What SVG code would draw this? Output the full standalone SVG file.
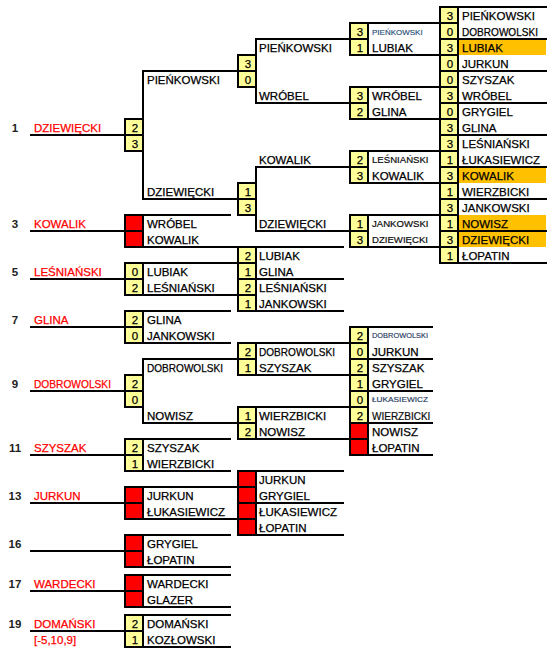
<svg xmlns="http://www.w3.org/2000/svg" width="549" height="650" viewBox="0 0 549 650">
<style>
text{font-family:"Liberation Sans",Arial,sans-serif;font-size:11.5px;fill:#000;stroke:#000;stroke-width:0.25px}
.lab{fill:#f00;stroke:#f00}
.num{font-weight:bold;fill:#222;stroke:none;text-anchor:middle}
.sc{text-anchor:middle}
.sm{font-size:9.6px;fill:#111;stroke-width:0.2px}
.xs{font-size:7.5px;fill:#1f3a5f;stroke:#1f3a5f;stroke-width:0.15px}
.p8{font-size:8px;fill:#1f4e79;stroke:#1f4e79;stroke-width:0.15px}
.y{fill:#ffff99;stroke:#000;stroke-width:2}
.rd{fill:#ff0000;stroke:#000;stroke-width:2}
.or{fill:#ffc000}
.ln{stroke:#000;stroke-width:2;fill:none;stroke-linecap:square}
</style>
<rect width="549" height="650" fill="#fff"/>
<g id="highlights">
<rect class="or" x="458" y="39" width="88" height="16"/>
<rect class="or" x="458" y="167" width="88" height="16"/>
<rect class="or" x="458" y="215" width="88" height="32"/>
</g>
<g id="connectors" class="ln">
<path d="M31 135H125M31 231H125M31 279H125M31 327H125M31 391H125M31 455H125M31 503H125M31 551H125M31 591H125M31 631H125"/>
<path d="M125 215H230M125 247H343M125 263H238M125 295H238M125 311H230M238 311H343M125 343H230M238 343H350M125 439H230M238 439H350M125 471H230M238 471H343M125 487H238M125 519H238M125 535H230M238 535H343M125 567H230M125 575H230M125 607H230M125 615H230M125 647H230"/>
<path d="M238 71H143V199H238M238 359H143V423H238"/>
<path d="M350 39H256V103H350M350 167H256V231H350"/>
<path d="M238 279H343M238 375H350M238 407H350M238 503H343"/>
<path d="M350 23H440M350 55H440M350 87H440M350 119H440M350 151H440M350 183H440M350 215H440M350 247H440"/>
<path d="M350 327H432M350 359H432M350 391H432M350 423H432M350 455H432"/>
<path d="M440 7H546M440 39H546M440 71H546M440 103H546M440 135H546M440 167H546M440 199H546M440 231H546M440 263H546"/>
</g>
<g id="labels">
<text class="num" x="15" y="132">1</text><text class="lab" x="34" y="132">DZIEWIĘCKI</text>
<text class="num" x="15" y="228">3</text><text class="lab" x="34" y="228">KOWALIK</text>
<text class="num" x="15" y="276">5</text><text class="lab" x="34" y="276">LEŚNIAŃSKI</text>
<text class="num" x="15" y="324">7</text><text class="lab" x="34" y="324">GLINA</text>
<text class="num" x="15" y="388">9</text><text class="lab" x="34" y="388" textLength="77" lengthAdjust="spacingAndGlyphs">DOBROWOLSKI</text>
<text class="num" x="15" y="452">11</text><text class="lab" x="34" y="452">SZYSZAK</text>
<text class="num" x="15" y="500">13</text><text class="lab" x="34" y="500">JURKUN</text>
<text class="num" x="15" y="548">16</text>
<text class="num" x="15" y="588">17</text><text class="lab" x="34" y="588">WARDECKI</text>
<text class="num" x="15" y="628">19</text><text class="lab" x="34" y="628">DOMAŃSKI</text>
<text class="lab" x="34" y="644">[-5,10,9]</text>
</g>
<g id="r1-dziewiecki">
<rect class="y" x="125" y="119" width="18" height="16"/><rect class="y" x="125" y="135" width="18" height="16"/>
<text class="sc" x="135" y="132">2</text><text class="sc" x="135" y="148">3</text>
<text x="147" y="84">PIEŃKOWSKI</text><text x="147" y="196">DZIEWIĘCKI</text>
</g>
<g id="r1-kowalik">
<rect class="rd" x="125" y="215" width="18" height="16"/><rect class="rd" x="125" y="231" width="18" height="16"/>
<text x="147" y="228">WRÓBEL</text><text x="147" y="244">KOWALIK</text>
</g>
<g id="r1-lesnianski">
<rect class="y" x="125" y="263" width="18" height="16"/><rect class="y" x="125" y="279" width="18" height="16"/>
<text class="sc" x="135" y="276">0</text><text class="sc" x="135" y="292">2</text>
<text x="147" y="276">LUBIAK</text><text x="147" y="292">LEŚNIAŃSKI</text>
</g>
<g id="r1-glina">
<rect class="y" x="125" y="311" width="18" height="16"/><rect class="y" x="125" y="327" width="18" height="16"/>
<text class="sc" x="135" y="324">2</text><text class="sc" x="135" y="340">0</text>
<text x="147" y="324">GLINA</text><text x="147" y="340">JANKOWSKI</text>
</g>
<g id="r1-dobrowolski">
<rect class="y" x="125" y="375" width="18" height="16"/><rect class="y" x="125" y="391" width="18" height="16"/>
<text class="sc" x="135" y="388">2</text><text class="sc" x="135" y="404">0</text>
<text x="147" y="372" textLength="76" lengthAdjust="spacingAndGlyphs">DOBROWOLSKI</text><text x="147" y="420">NOWISZ</text>
</g>
<g id="r1-szyszak">
<rect class="y" x="125" y="439" width="18" height="16"/><rect class="y" x="125" y="455" width="18" height="16"/>
<text class="sc" x="135" y="452">2</text><text class="sc" x="135" y="468">1</text>
<text x="147" y="452">SZYSZAK</text><text x="147" y="468">WIERZBICKI</text>
</g>
<g id="r1-jurkun">
<rect class="rd" x="125" y="487" width="18" height="16"/><rect class="rd" x="125" y="503" width="18" height="16"/>
<text x="147" y="500">JURKUN</text><text x="147" y="516">ŁUKASIEWICZ</text>
</g>
<g id="r1-16">
<rect class="rd" x="125" y="535" width="18" height="16"/><rect class="rd" x="125" y="551" width="18" height="16"/>
<text x="147" y="548">GRYGIEL</text><text x="147" y="564">ŁOPATIN</text>
</g>
<g id="r1-wardecki">
<rect class="rd" x="125" y="575" width="18" height="16"/><rect class="rd" x="125" y="591" width="18" height="16"/>
<text x="147" y="588">WARDECKI</text><text x="147" y="604">GLAZER</text>
</g>
<g id="r1-domanski">
<rect class="y" x="125" y="615" width="18" height="16"/><rect class="y" x="125" y="631" width="18" height="16"/>
<text class="sc" x="135" y="628">2</text><text class="sc" x="135" y="644">1</text>
<text x="147" y="628">DOMAŃSKI</text><text x="147" y="644">KOZŁOWSKI</text>
</g>
<g id="r2-pienkowski">
<rect class="y" x="238" y="55" width="18" height="16"/><rect class="y" x="238" y="71" width="18" height="16"/>
<text class="sc" x="248" y="68">3</text><text class="sc" x="248" y="84">0</text>
<text x="259" y="52">PIEŃKOWSKI</text><text x="259" y="100">WRÓBEL</text>
</g>
<g id="r2-kowalik">
<rect class="y" x="238" y="183" width="18" height="16"/><rect class="y" x="238" y="199" width="18" height="16"/>
<text class="sc" x="248" y="196">1</text><text class="sc" x="248" y="212">3</text>
<text x="259" y="164">KOWALIK</text><text x="259" y="228">DZIEWIĘCKI</text>
</g>
<g id="r2-lubiak">
<rect class="y" x="238" y="247" width="18" height="16"/><rect class="y" x="238" y="263" width="18" height="16"/>
<rect class="y" x="238" y="279" width="18" height="16"/><rect class="y" x="238" y="295" width="18" height="16"/>
<text class="sc" x="248" y="260">2</text><text class="sc" x="248" y="276">1</text>
<text class="sc" x="248" y="292">2</text><text class="sc" x="248" y="308">1</text>
<text x="259" y="260">LUBIAK</text><text x="259" y="276">GLINA</text>
<text x="259" y="292">LEŚNIAŃSKI</text><text x="259" y="308">JANKOWSKI</text>
</g>
<g id="r2-dobrowolski">
<rect class="y" x="238" y="343" width="18" height="16"/><rect class="y" x="238" y="359" width="18" height="16"/>
<text class="sc" x="248" y="356">2</text><text class="sc" x="248" y="372">1</text>
<text x="259" y="356" textLength="76" lengthAdjust="spacingAndGlyphs">DOBROWOLSKI</text><text x="259" y="372">SZYSZAK</text>
</g>
<g id="r2-wierzbicki">
<rect class="y" x="238" y="407" width="18" height="16"/><rect class="y" x="238" y="423" width="18" height="16"/>
<text class="sc" x="248" y="420">1</text><text class="sc" x="248" y="436">2</text>
<text x="259" y="420">WIERZBICKI</text><text x="259" y="436">NOWISZ</text>
</g>
<g id="r2-jurkun">
<rect class="rd" x="238" y="471" width="18" height="16"/><rect class="rd" x="238" y="487" width="18" height="16"/>
<rect class="rd" x="238" y="503" width="18" height="16"/><rect class="rd" x="238" y="519" width="18" height="16"/>
<text x="259" y="484">JURKUN</text><text x="259" y="500">GRYGIEL</text>
<text x="259" y="516">ŁUKASIEWICZ</text><text x="259" y="532">ŁOPATIN</text>
</g>
<g id="r3-pienkowski">
<rect class="y" x="350" y="23" width="18" height="16"/><rect class="y" x="350" y="39" width="18" height="16"/>
<text class="sc" x="360" y="36">3</text><text class="sc" x="360" y="52">1</text>
<text class="p8" x="372" y="35">PIEŃKOWSKI</text><text x="372" y="52">LUBIAK</text>
</g>
<g id="r3-wrobel">
<rect class="y" x="350" y="87" width="18" height="16"/><rect class="y" x="350" y="103" width="18" height="16"/>
<text class="sc" x="360" y="100">3</text><text class="sc" x="360" y="116">2</text>
<text x="372" y="100">WRÓBEL</text><text x="372" y="116">GLINA</text>
</g>
<g id="r3-kowalik">
<rect class="y" x="350" y="151" width="18" height="16"/><rect class="y" x="350" y="167" width="18" height="16"/>
<text class="sc" x="360" y="164">2</text><text class="sc" x="360" y="180">3</text>
<text class="sm" x="372" y="163">LEŚNIAŃSKI</text><text x="372" y="180">KOWALIK</text>
</g>
<g id="r3-dziewiecki">
<rect class="y" x="350" y="215" width="18" height="16"/><rect class="y" x="350" y="231" width="18" height="16"/>
<text class="sc" x="360" y="228">1</text><text class="sc" x="360" y="244">3</text>
<text class="sm" x="372" y="227">JANKOWSKI</text><text class="sm" x="372" y="243">DZIEWIĘCKI</text>
</g>
<g id="r3-dobrowolski">
<rect class="y" x="350" y="327" width="18" height="16"/><rect class="y" x="350" y="343" width="18" height="16"/>
<text class="sc" x="360" y="340">2</text><text class="sc" x="360" y="356">0</text>
<text class="xs" x="372" y="338" textLength="56" lengthAdjust="spacingAndGlyphs">DOBROWOLSKI</text><text x="372" y="356">JURKUN</text>
</g>
<g id="r3-szyszak">
<rect class="y" x="350" y="359" width="18" height="16"/><rect class="y" x="350" y="375" width="18" height="16"/>
<text class="sc" x="360" y="372">2</text><text class="sc" x="360" y="388">1</text>
<text x="372" y="372">SZYSZAK</text><text x="372" y="388">GRYGIEL</text>
</g>
<g id="r3-wierzbicki">
<rect class="y" x="350" y="391" width="18" height="16"/><rect class="y" x="350" y="407" width="18" height="16"/>
<text class="sc" x="360" y="404">0</text><text class="sc" x="360" y="420">2</text>
<text class="xs" x="372" y="402" textLength="56" lengthAdjust="spacingAndGlyphs">ŁUKASIEWICZ</text><text class="sm" x="372" y="420" style="font-size:10px">WIERZBICKI</text>
</g>
<g id="r3-nowisz">
<rect class="rd" x="350" y="423" width="18" height="16"/><rect class="rd" x="350" y="439" width="18" height="16"/>
<text x="372" y="436">NOWISZ</text><text x="372" y="452">ŁOPATIN</text>
</g>
<g id="r4">
<rect class="y" x="440" y="7" width="18" height="16"/><rect class="y" x="440" y="23" width="18" height="16"/>
<rect class="y" x="440" y="39" width="18" height="16"/><rect class="y" x="440" y="55" width="18" height="16"/>
<rect class="y" x="440" y="71" width="18" height="16"/><rect class="y" x="440" y="87" width="18" height="16"/>
<rect class="y" x="440" y="103" width="18" height="16"/><rect class="y" x="440" y="119" width="18" height="16"/>
<rect class="y" x="440" y="135" width="18" height="16"/><rect class="y" x="440" y="151" width="18" height="16"/>
<rect class="y" x="440" y="167" width="18" height="16"/><rect class="y" x="440" y="183" width="18" height="16"/>
<rect class="y" x="440" y="199" width="18" height="16"/><rect class="y" x="440" y="215" width="18" height="16"/>
<rect class="y" x="440" y="231" width="18" height="16"/><rect class="y" x="440" y="247" width="18" height="16"/>
<text class="sc" x="450" y="20">3</text><text x="462" y="20">PIEŃKOWSKI</text>
<text class="sc" x="450" y="36">0</text><text x="462" y="36" textLength="76" lengthAdjust="spacingAndGlyphs">DOBROWOLSKI</text>
<text class="sc" x="450" y="52">3</text><text x="462" y="52">LUBIAK</text>
<text class="sc" x="450" y="68">0</text><text x="462" y="68">JURKUN</text>
<text class="sc" x="450" y="84">0</text><text x="462" y="84">SZYSZAK</text>
<text class="sc" x="450" y="100">3</text><text x="462" y="100">WRÓBEL</text>
<text class="sc" x="450" y="116">0</text><text x="462" y="116">GRYGIEL</text>
<text class="sc" x="450" y="132">3</text><text x="462" y="132">GLINA</text>
<text class="sc" x="450" y="148">3</text><text x="462" y="148">LEŚNIAŃSKI</text>
<text class="sc" x="450" y="164">1</text><text x="462" y="164">ŁUKASIEWICZ</text>
<text class="sc" x="450" y="180">3</text><text x="462" y="180">KOWALIK</text>
<text class="sc" x="450" y="196">1</text><text x="462" y="196">WIERZBICKI</text>
<text class="sc" x="450" y="212">3</text><text x="462" y="212">JANKOWSKI</text>
<text class="sc" x="450" y="228">1</text><text x="462" y="228">NOWISZ</text>
<text class="sc" x="450" y="244">3</text><text x="462" y="244">DZIEWIĘCKI</text>
<text class="sc" x="450" y="260">1</text><text x="462" y="260">ŁOPATIN</text>
</g>
</svg>
